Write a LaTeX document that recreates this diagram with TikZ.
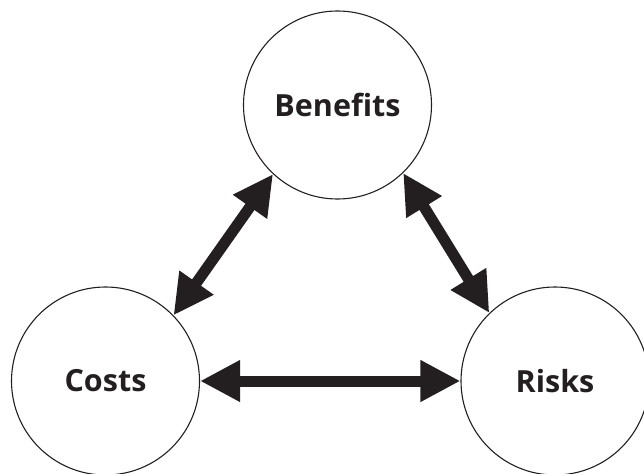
\documentclass[tikz,border=0pt]{standalone}
\usepackage{fontspec}
\setmainfont{Open Sans}
\usetikzlibrary{arrows.meta}
\definecolor{ink}{HTML}{231F20}
\begin{document}
\begin{tikzpicture}[x=1pt,y=-1pt,
  topic/.style={circle, draw=ink, line width=1.1pt, minimum size=188pt, inner sep=0pt,
    font=\bfseries\fontsize{30.5}{30.5}\selectfont, text=ink},
  link/.style={draw=ink, fill=ink, line width=11pt,
    {Triangle[length=40pt,width=39pt]}-{Triangle[length=40pt,width=39pt]}}]
\useasboundingbox (0,0) rectangle (644,473);
\node[topic] (ben)  at (337.5,105) {Benefits};
\node[topic] (cost) at (105.5,381) {Costs};
\node[topic] (risk) at (555,381)   {Risks};
\draw[link] (ben.227) -- (cost.44);
\draw[link] (ben.314) -- (risk.134);
\draw[link] (cost.east) -- (risk.west);
\end{tikzpicture}
\end{document}
